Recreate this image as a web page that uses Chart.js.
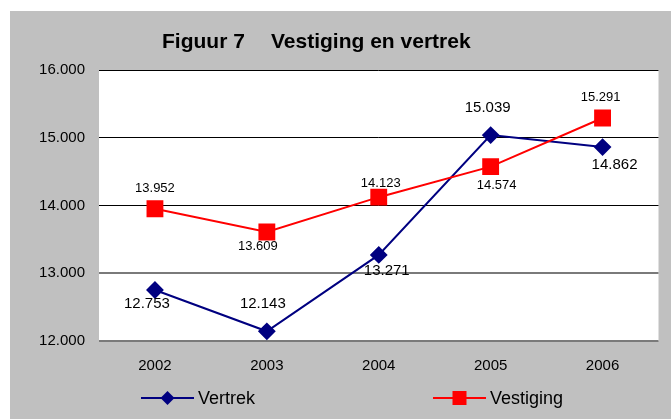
<!DOCTYPE html>
<html>
<head>
<meta charset="utf-8">
<script src="https://cdn.jsdelivr.net/npm/chart.js@4"></script>
<style>
  body { margin: 0; background: #fff; }
  #wrap { position: absolute; left: 10px; top: 11px; width: 661px; height: 408px; }
</style>
</head>
<body>
<div id="wrap"><canvas id="grafiek" width="661" height="408"></canvas></div>
<script>
const jaren = ["2002", "2003", "2004", "2005", "2006"];
const vertrek = [12753, 12143, 13271, 15039, 14862];
const vestiging = [13952, 13609, 14123, 14574, 15291];
const yTicks = [12000, 13000, 14000, 15000, 16000];

const FONT = "Arial, 'Liberation Sans', sans-serif";

function formatNL(v) {
  return String(v).replace(/\B(?=(\d{3})+(?!\d))/g, ".");
}

// label offsets per point (relative to the marker)
const labelPos = [
  { size: 15, off: [[-8, 14], [-4, -27], [8, 16], [-3, -27], [12, 18]] },
  { size: 13, off: [[0, -20], [-9, 14], [2, -14], [6, 19], [-2, -21]] }
];

const achtergrond = {
  id: "achtergrond",
  beforeDraw(chart) {
    const { ctx, chartArea: a } = chart;
    ctx.save();
    ctx.fillStyle = "#c0c0c0";
    ctx.fillRect(0, 0, chart.width, chart.height);
    ctx.fillStyle = "#ffffff";
    ctx.fillRect(a.left, a.top, a.right - a.left, a.bottom - a.top);
    ctx.restore();
  }
};

const labels = {
  id: "labels",
  afterDatasetsDraw(chart) {
    const ctx = chart.ctx;
    ctx.save();
    ctx.fillStyle = "#000";
    ctx.textAlign = "center";
    ctx.textBaseline = "middle";
    chart.data.datasets.forEach((ds, i) => {
      const meta = chart.getDatasetMeta(i);
      ctx.font = labelPos[i].size + "px " + FONT;
      meta.data.forEach((el, j) => {
        const o = labelPos[i].off[j];
        ctx.fillText(formatNL(ds.data[j]), el.x + o[0], el.y + o[1]);
      });
    });
    ctx.restore();
  }
};

const titelEnLegenda = {
  id: "titelEnLegenda",
  afterDraw(chart) {
    const ctx = chart.ctx;
    ctx.save();
    ctx.fillStyle = "#000";
    ctx.textBaseline = "alphabetic";
    ctx.textAlign = "left";
    ctx.font = "bold 21px " + FONT;
    ctx.fillText("Figuur 7", 152, 37);
    ctx.fillText("Vestiging en vertrek", 261, 37);

    // legend
    const items = [
      { ds: chart.data.datasets[0], x: 131 },
      { ds: chart.data.datasets[1], x: 423 }
    ];
    const y = 387;
    items.forEach(it => {
      ctx.strokeStyle = it.ds.borderColor;
      ctx.lineWidth = 2;
      ctx.beginPath();
      ctx.moveTo(it.x, y);
      ctx.lineTo(it.x + 53, y);
      ctx.stroke();
      ctx.fillStyle = it.ds.borderColor;
      const cx = it.x + 26.5;
      if (it.ds.pointStyle === "rectRot") {
        ctx.beginPath();
        ctx.moveTo(cx, y - 7);
        ctx.lineTo(cx + 7, y);
        ctx.lineTo(cx, y + 7);
        ctx.lineTo(cx - 7, y);
        ctx.closePath();
        ctx.fill();
      } else {
        ctx.fillRect(cx - 7, y - 7, 14, 14);
      }
      ctx.fillStyle = "#000";
      ctx.font = "18px " + FONT;
      ctx.textBaseline = "middle";
      ctx.fillText(it.ds.label, it.x + 57, y + 1);
    });
    ctx.restore();
  }
};

new Chart(document.getElementById("grafiek"), {
  type: "line",
  data: {
    labels: jaren,
    datasets: [
      {
        label: "Vertrek",
        data: vertrek,
        borderColor: "#000080",
        backgroundColor: "#000080",
        borderWidth: 2,
        pointStyle: "rectRot",
        pointRadius: 7.5,
        pointHoverRadius: 7.5,
        tension: 0,
        order: 2
      },
      {
        label: "Vestiging",
        data: vestiging,
        borderColor: "#ff0000",
        backgroundColor: "#ff0000",
        borderWidth: 2,
        pointStyle: "rect",
        pointRadius: 10.5,
        pointHoverRadius: 10.5,
        tension: 0,
        order: 1
      }
    ]
  },
  options: {
    responsive: false,
    animation: false,
    events: [],
    layout: { padding: { top: 59, right: 9, left: 0, bottom: 0 } },
    plugins: {
      legend: { display: false },
      title: { display: false },
      tooltip: { enabled: false }
    },
    scales: {
      x: {
        offset: true,
        grid: { display: false, drawTicks: false },
        border: { display: false },
        ticks: { color: "#000", font: { family: FONT, size: 15 }, padding: 16, maxRotation: 0 },
        afterFit(scale) {
          scale.height = 78;
          scale.paddingLeft = 0;
          scale.paddingRight = 0;
        }
      },
      y: {
        min: 12000,
        max: 16000,
        afterBuildTicks(scale) { scale.ticks = yTicks.map(v => ({ value: v })); },
        grid: {
          color: c => (c.tick && c.tick.value <= 13000 ? "#7a7a7a" : "#000"),
          lineWidth: c => (c.tick && c.tick.value <= 13000 ? 2 : 1),
          drawTicks: false
        },
        border: { display: false },
        ticks: {
          color: "#000",
          font: { family: FONT, size: 15 },
          padding: 14,
          callback: v => formatNL(v)
        },
        afterFit(scale) {
          scale.width = 89;
          scale.paddingTop = 0;
          scale.paddingBottom = 0;
        }
      }
    }
  },
  plugins: [achtergrond, labels, titelEnLegenda]
});
</script>
</body>
</html>
